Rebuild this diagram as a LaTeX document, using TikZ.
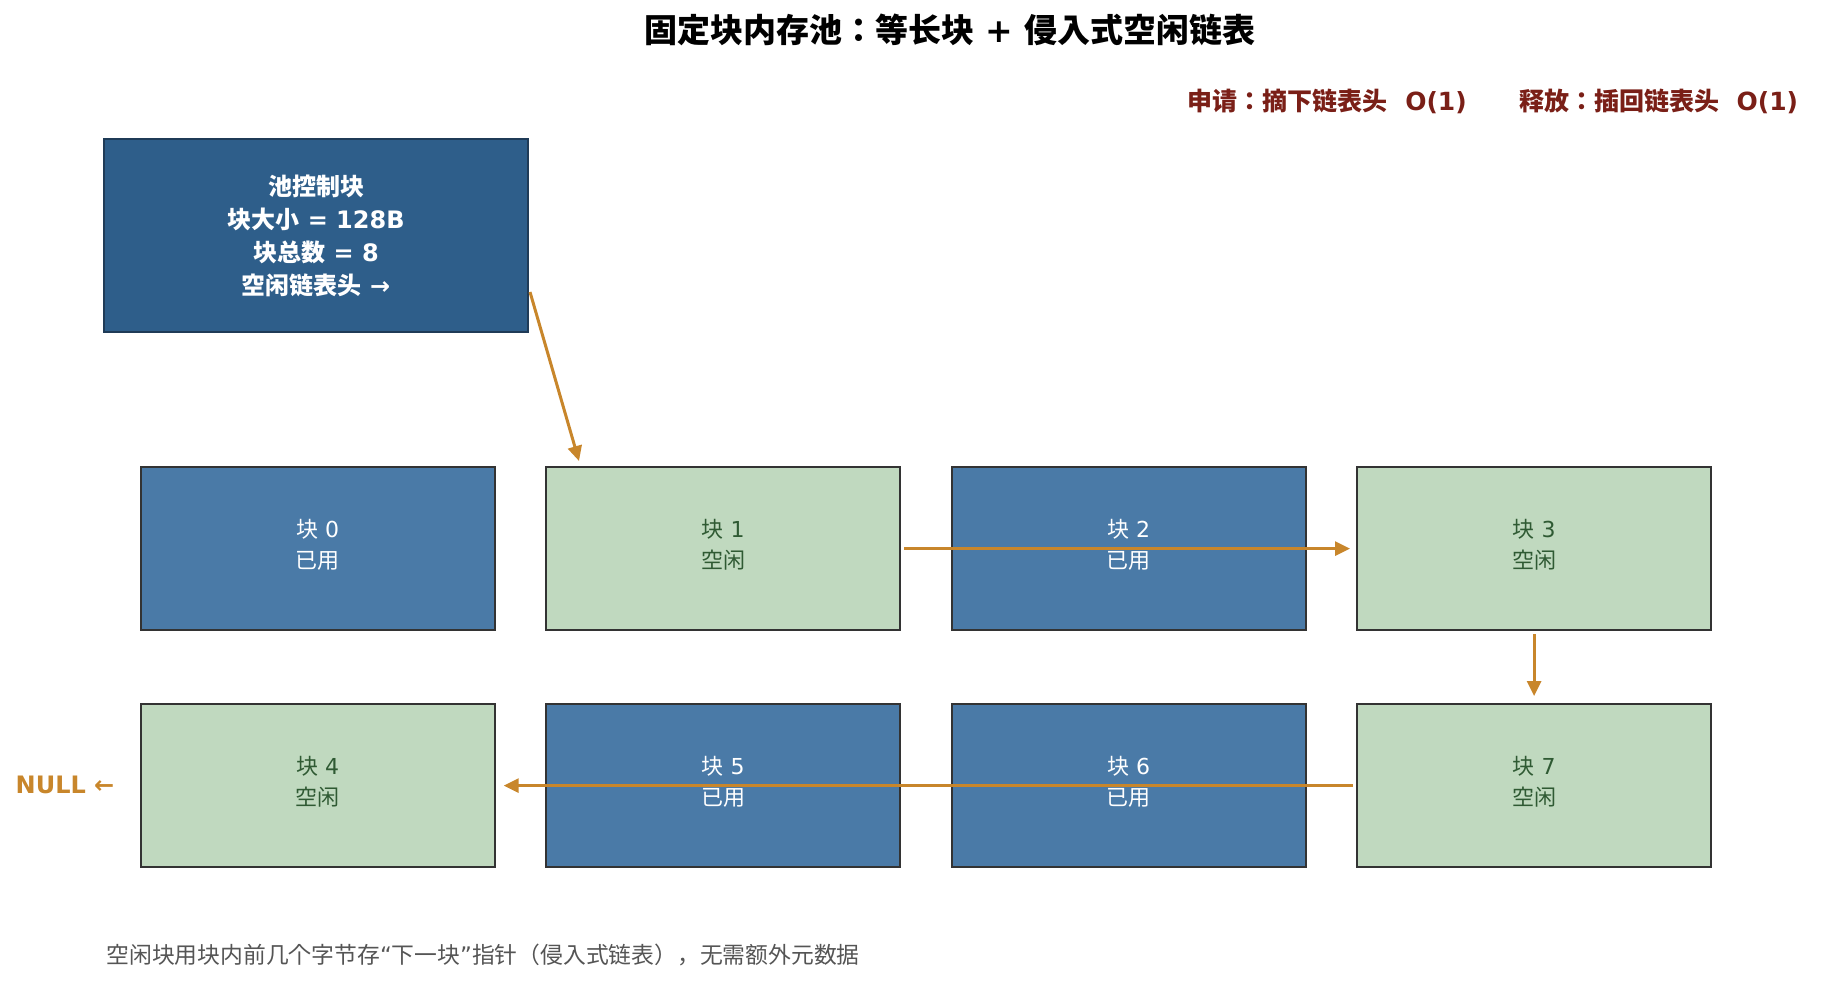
\documentclass[tikz,border=0pt]{standalone}
\usepackage{fontspec}
\setmainfont{DejaVu Sans}
\newfontfamily\cjk{Noto Sans CJK JP}
\usetikzlibrary{arrows.meta,calc}
\newcommand\zh[1]{{\cjk #1}}
\definecolor{ctrlfill}{HTML}{2E5E8A}
\definecolor{ctrlborder}{HTML}{1F3B57}
\definecolor{usedfill}{HTML}{4A7AA7}
\definecolor{freefill}{HTML}{C0D9BF}
\definecolor{freetext}{HTML}{2F5A33}
\definecolor{blkborder}{HTML}{333333}
\definecolor{linkc}{HTML}{C8862B}
\definecolor{opsred}{HTML}{7A1F17}
\definecolor{notegray}{HTML}{555555}
\begin{document}
\begin{tikzpicture}[x=0.5pt,y=-0.5pt,
  blk/.style={draw=blkborder,line width=1.1pt,minimum width=177pt,minimum height=81.5pt,
    inner sep=0pt,anchor=north west},
  used/.style={blk,fill=usedfill},
  free/.style={blk,fill=freefill},
  blktxt/.style={align=center,inner sep=0pt,yshift=1.75pt,font=\fontsize{11}{15.5}\selectfont},
  usedtxt/.style={blktxt,text=white},
  freetxt/.style={blktxt,text=freetext},
  ctrlbox/.style={draw=ctrlborder,line width=1pt,fill=ctrlfill,text=white,
    minimum width=212pt,minimum height=96.5pt,inner sep=0pt,align=center,
    font=\bfseries\fontsize{12}{16.5}\selectfont},
  link/.style={draw=linkc,line width=1.5pt,-{Triangle[length=7.5pt,width=7pt]}}]
\useasboundingbox (0,0) rectangle (1847,1000);

\node[font=\bfseries\fontsize{16.5}{20}\selectfont] (title) at (950,30)
  {\zh{固定块内存池：等长块} + \zh{侵入式空闲链表}};
\node[text=opsred,font=\bfseries\fontsize{12.5}{15}\selectfont] (ops) at (1493,101)
  {\zh{申请：摘下链表头}~~O(1)\hspace{2.1em}\zh{释放：插回链表头}~~O(1)};

\node[ctrlbox] (ctrl) at (316,235.5)
  {\zh{池控制块}\\\zh{块大小} = 128B\\\zh{块总数} = 8\\\zh{空闲链表头} →};

\node[used] (b0) at (139.5,466) {};
\node[free] (b1) at (545,466) {};
\node[used] (b2) at (950.5,466) {};
\node[free] (b3) at (1356,466) {};
\node[free] (b4) at (139.5,703) {};
\node[used] (b5) at (545,703) {};
\node[used] (b6) at (950.5,703) {};
\node[free] (b7) at (1356,703) {};
\node[usedtxt] (t0) at (b0.center) {\zh{块} 0\\\zh{已用}};
\node[freetxt] (t1) at (b1.center) {\zh{块} 1\\\zh{空闲}};
\node[usedtxt] (t2) at (b2.center) {\zh{块} 2\\\zh{已用}};
\node[freetxt] (t3) at (b3.center) {\zh{块} 3\\\zh{空闲}};
\node[freetxt] (t4) at (b4.center) {\zh{块} 4\\\zh{空闲}};
\node[usedtxt] (t5) at (b5.center) {\zh{块} 5\\\zh{已用}};
\node[usedtxt] (t6) at (b6.center) {\zh{块} 6\\\zh{已用}};
\node[freetxt] (t7) at (b7.center) {\zh{块} 7\\\zh{空闲}};

\node[text=linkc,font=\bfseries\fontsize{12}{14}\selectfont] (null) at (65,785) {NULL ←};

\node[anchor=west,inner sep=0pt,text=notegray,font=\fontsize{11.4}{14}\selectfont] (note) at (106,955)
  {\zh{空闲块用块内前几个字节存}“\zh{下一块}”\zh{指针（侵入式链表），无需额外元数据}};

\draw[link] ($(ctrl.south east)+(1,-41)$) -- ($(b1.north west)+(34,-5)$);
\draw[link,shorten <=1.5pt,shorten >=3pt] (b1.east) -- (b3.west);
\draw[link,shorten <=1.5pt,shorten >=3.5pt] (b3.south) -- (b7.north);
\draw[link,shorten <=1.5pt,shorten >=4pt] (b7.west) -- (b4.east);
\end{tikzpicture}
\end{document}
